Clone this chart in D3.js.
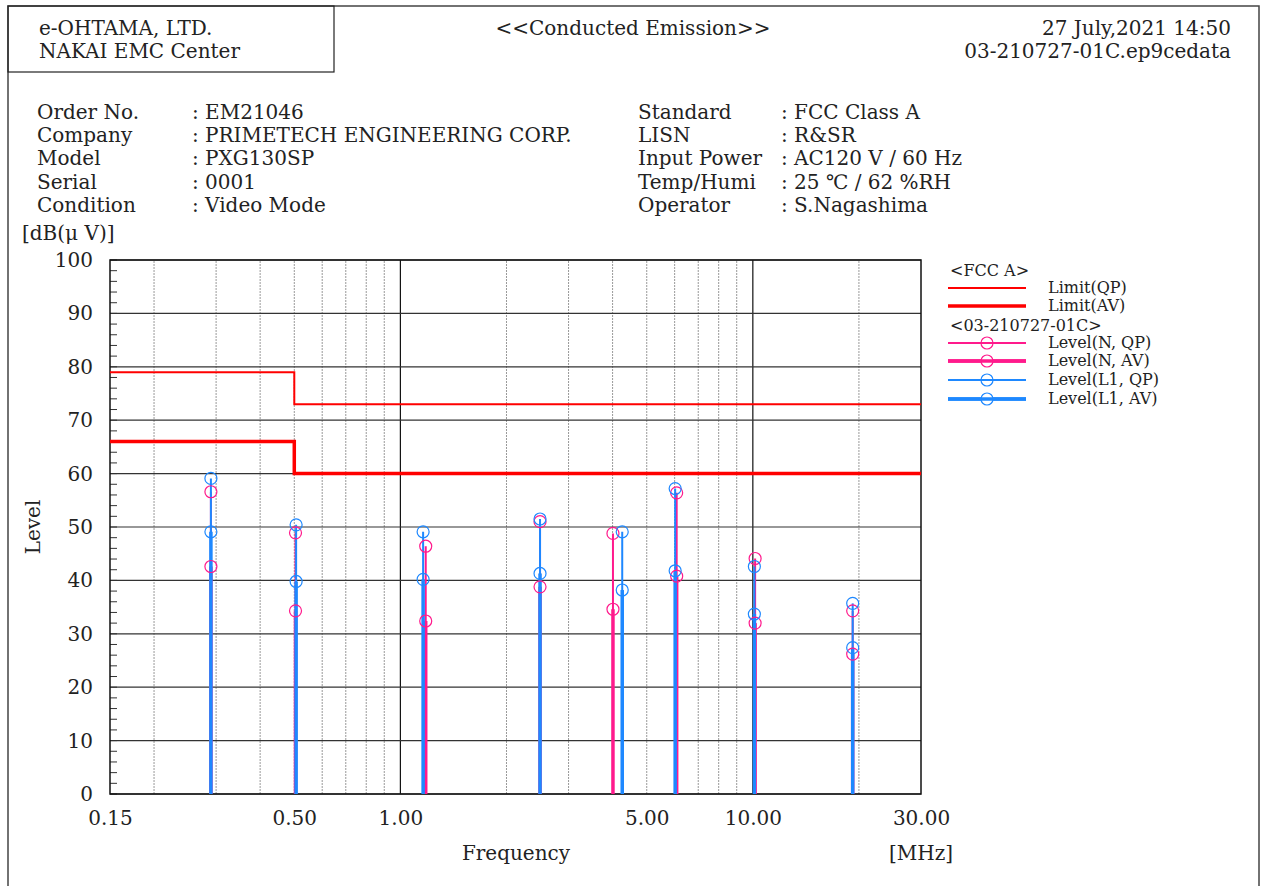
<!DOCTYPE html>
<html>
<head>
<meta charset="utf-8">
<script src="https://cdn.jsdelivr.net/npm/d3@7"></script>
<style>
  body { margin: 0; background: #fff; }
  svg text { font-family: "DejaVu Serif", "Liberation Serif", serif; fill: #222; }
</style>
</head>
<body>
<div id="chart"></div>
<script>
// measured peaks, N line (pink) and L1 line (blue), MHz / dB(uV)
var nFreq  = [0.290, 0.504, 1.18, 2.49, 4.01, 6.08, 10.15, 19.2];
var nQP    = [56.6, 48.9, 46.4, 51.0, 48.8, 56.4, 44.1, 34.3];
var nAV    = [42.6, 34.3, 32.4, 38.8, 34.6, 40.8, 32.0, 26.2];
var l1Freq = [0.290, 0.506, 1.16, 2.49, 4.26, 6.02, 10.10, 19.2];
var l1QP   = [59.1, 50.4, 49.1, 51.5, 49.1, 57.2, 42.6, 35.7];
var l1AV   = [49.1, 39.8, 40.2, 41.3, 38.2, 41.8, 33.7, 27.4];

// FCC class A limits
var limitFreq = [0.15, 0.5, 0.5, 30];
var limitQP   = [79, 79, 73, 73];
var limitAV   = [66, 66, 60, 60];

var xTickValues = [0.15, 0.5, 1, 5, 10, 30];
var xTickLabels = ["0.15", "0.50", "1.00", "5.00", "10.00", "30.00"];
var yTickValues = d3.range(0, 101, 10);

var infoLeft = [
  ["Order No.", ": EM21046"],
  ["Company", ": PRIMETECH ENGINEERING CORP."],
  ["Model", ": PXG130SP"],
  ["Serial", ": 0001"],
  ["Condition", ": Video Mode"]
];
var infoRight = [
  ["Standard", ": FCC Class A"],
  ["LISN", ": R&SR"],
  ["Input Power", ": AC120 V / 60 Hz"],
  ["Temp/Humi", ": 25 \u2103 / 62 %RH"],
  ["Operator", ": S.Nagashima"]
];

var pink = "#ff1a8c", blue = "#1e88ff", red = "#ff0000";

var W = 1263, H = 886;
var svg = d3.select("#chart").append("svg")
    .attr("width", W)
    .attr("height", H);

// page frame and header box
svg.append("path")
    .attr("d", "M8,886 L8,6 L1259,6 L1259,886")
    .attr("fill", "none").attr("stroke", "#444").attr("stroke-width", 1.5);
svg.append("rect")
    .attr("x", 8).attr("y", 6).attr("width", 326).attr("height", 66)
    .attr("fill", "none").attr("stroke", "#222").attr("stroke-width", 1.2);

var fs = 20;
svg.append("text").attr("x", 39).attr("y", 35).attr("font-size", fs).text("e-OHTAMA, LTD.");
svg.append("text").attr("x", 39).attr("y", 58).attr("font-size", fs).text("NAKAI EMC Center");
svg.append("text").attr("x", 633).attr("y", 35).attr("font-size", fs)
    .attr("text-anchor", "middle").text("<<Conducted Emission>>");
svg.append("text").attr("x", 1231).attr("y", 35).attr("font-size", fs)
    .attr("text-anchor", "end").text("27 July,2021 14:50");
svg.append("text").attr("x", 1231).attr("y", 58).attr("font-size", fs)
    .attr("text-anchor", "end").text("03-210727-01C.ep9cedata");

// info block
infoLeft.forEach(function(d, i) {
    var y = 119 + i * 23.2;
    svg.append("text").attr("x", 37).attr("y", y).attr("font-size", fs).text(d[0]);
    svg.append("text").attr("x", 192).attr("y", y).attr("font-size", fs).text(d[1]);
});
infoRight.forEach(function(d, i) {
    var y = 119 + i * 23.2;
    svg.append("text").attr("x", 638).attr("y", y).attr("font-size", fs).text(d[0]);
    svg.append("text").attr("x", 781).attr("y", y).attr("font-size", fs).text(d[1]);
});

// scales
var x = d3.scaleLog().domain([0.15, 30]).range([110, 921]);
var y = d3.scaleLinear().domain([0, 100]).range([794, 260]);

var plot = svg.append("g");

// vertical grid
var minorF = [0.2, 0.3, 0.4, 0.5, 0.6, 0.7, 0.8, 0.9, 2, 3, 4, 5, 6, 7, 8, 9, 20];
plot.selectAll(".vminor").data(minorF).enter().append("line")
    .attr("class", "vminor")
    .attr("x1", function(d) { return x(d); }).attr("x2", function(d) { return x(d); })
    .attr("y1", y(0)).attr("y2", y(100))
    .attr("stroke", "#999").attr("stroke-width", 1).attr("stroke-dasharray", "2,1");
plot.selectAll(".vmajor").data([1, 10]).enter().append("line")
    .attr("class", "vmajor")
    .attr("x1", function(d) { return x(d); }).attr("x2", function(d) { return x(d); })
    .attr("y1", y(0)).attr("y2", y(100))
    .attr("stroke", "#111").attr("stroke-width", 1.2);

// horizontal grid
plot.selectAll(".hgrid").data(yTickValues).enter().append("line")
    .attr("class", "hgrid")
    .attr("x1", x(0.15)).attr("x2", x(30))
    .attr("y1", function(d) { return y(d); }).attr("y2", function(d) { return y(d); })
    .attr("stroke", "#333").attr("stroke-width", 1.2);

// minor y ticks every 2 dB
plot.selectAll(".ytick").data(d3.range(0, 101, 2)).enter().append("line")
    .attr("class", "ytick")
    .attr("x1", x(0.15)).attr("x2", x(0.15) + 7)
    .attr("y1", function(d) { return y(d); }).attr("y2", function(d) { return y(d); })
    .attr("stroke", "#333").attr("stroke-width", 1);

// frame of plot
plot.append("rect")
    .attr("x", x(0.15)).attr("y", y(100))
    .attr("width", x(30) - x(0.15)).attr("height", y(0) - y(100))
    .attr("fill", "none").attr("stroke", "#111").attr("stroke-width", 1.5);

// axes (labels only)
var yAxis = d3.axisLeft(y).tickValues(yTickValues).tickSize(0).tickPadding(17);
var gy = svg.append("g").attr("transform", "translate(" + x(0.15) + ",0)").call(yAxis);
gy.select(".domain").remove();
gy.selectAll("text").attr("font-size", fs).attr("fill", "#222")
    .style("font-family", "'DejaVu Serif', serif");

var xAxis = d3.axisBottom(x).tickValues(xTickValues).tickSize(0).tickPadding(17)
    .tickFormat(function(d, i) { return xTickLabels[i]; });
var gx = svg.append("g").attr("transform", "translate(0," + y(0) + ")").call(xAxis);
gx.select(".domain").remove();
gx.selectAll("text").attr("font-size", fs).attr("fill", "#222")
    .style("font-family", "'DejaVu Serif', serif");

// limit lines
var limLine = d3.line()
    .x(function(d) { return x(d[0]); })
    .y(function(d) { return y(d[1]); });
plot.append("path").datum(d3.zip(limitFreq, limitQP))
    .attr("d", limLine).attr("fill", "none").attr("stroke", red).attr("stroke-width", 2);
plot.append("path").datum(d3.zip(limitFreq, limitAV))
    .attr("d", limLine).attr("fill", "none").attr("stroke", red).attr("stroke-width", 3.5);

// level bars (pink first, then blue on top)
function drawSeries(freq, qp, av, color) {
    var g = plot.append("g");
    g.selectAll(".qp").data(d3.zip(freq, qp)).enter().append("line")
        .attr("x1", function(d) { return x(d[0]); }).attr("x2", function(d) { return x(d[0]); })
        .attr("y1", y(0)).attr("y2", function(d) { return y(d[1]); })
        .attr("stroke", color).attr("stroke-width", 2);
    g.selectAll(".av").data(d3.zip(freq, av)).enter().append("line")
        .attr("x1", function(d) { return x(d[0]); }).attr("x2", function(d) { return x(d[0]); })
        .attr("y1", y(0)).attr("y2", function(d) { return y(d[1]); })
        .attr("stroke", color).attr("stroke-width", 3.5);
    return g;
}
function drawCircles(freq, vals, color) {
    plot.append("g").selectAll("circle").data(d3.zip(freq, vals)).enter().append("circle")
        .attr("cx", function(d) { return x(d[0]); })
        .attr("cy", function(d) { return y(d[1]); })
        .attr("r", 6)
        .attr("fill", "none").attr("stroke", color).attr("stroke-width", 1.2);
}
drawSeries(nFreq, nQP, nAV, pink);
drawSeries(l1Freq, l1QP, l1AV, blue);
drawCircles(nFreq, nQP, pink);
drawCircles(nFreq, nAV, pink);
drawCircles(l1Freq, l1QP, blue);
drawCircles(l1Freq, l1AV, blue);

// axis titles
svg.append("text").attr("x", 22).attr("y", 240).attr("font-size", fs).text("[dB(\u03bc V)]");
svg.append("text").attr("transform", "translate(40,527) rotate(-90)")
    .attr("text-anchor", "middle").attr("font-size", fs).text("Level");
svg.append("text").attr("x", 516).attr("y", 860).attr("text-anchor", "middle")
    .attr("font-size", fs).text("Frequency");
svg.append("text").attr("x", 921).attr("y", 860).attr("text-anchor", "middle")
    .attr("font-size", fs).text("[MHz]");

// legend
var lg = svg.append("g").attr("font-size", 16);
lg.append("text").attr("x", 950).attr("y", 276).text("<FCC A>");
lg.append("text").attr("x", 950).attr("y", 331).text("<03-210727-01C>");
var legendItems = [
    {label: "Limit(QP)", color: red, w: 2, y: 288, circle: false},
    {label: "Limit(AV)", color: red, w: 3.5, y: 306, circle: false},
    {label: "Level(N, QP)", color: pink, w: 2, y: 343, circle: true},
    {label: "Level(N, AV)", color: pink, w: 3.5, y: 361, circle: true},
    {label: "Level(L1, QP)", color: blue, w: 2, y: 380, circle: true},
    {label: "Level(L1, AV)", color: blue, w: 3.5, y: 399, circle: true}
];
legendItems.forEach(function(d) {
    lg.append("line").attr("x1", 948).attr("x2", 1026).attr("y1", d.y).attr("y2", d.y)
        .attr("stroke", d.color).attr("stroke-width", d.w);
    if (d.circle) {
        lg.append("circle").attr("cx", 987).attr("cy", d.y).attr("r", 6)
            .attr("fill", "#fff").attr("stroke", d.color).attr("stroke-width", 1.2);
        lg.append("line").attr("x1", 948).attr("x2", 1026).attr("y1", d.y).attr("y2", d.y)
            .attr("stroke", d.color).attr("stroke-width", d.w);
    }
    lg.append("text").attr("x", 1048).attr("y", d.y + 5).text(d.label);
});
</script>
</body>
</html>
